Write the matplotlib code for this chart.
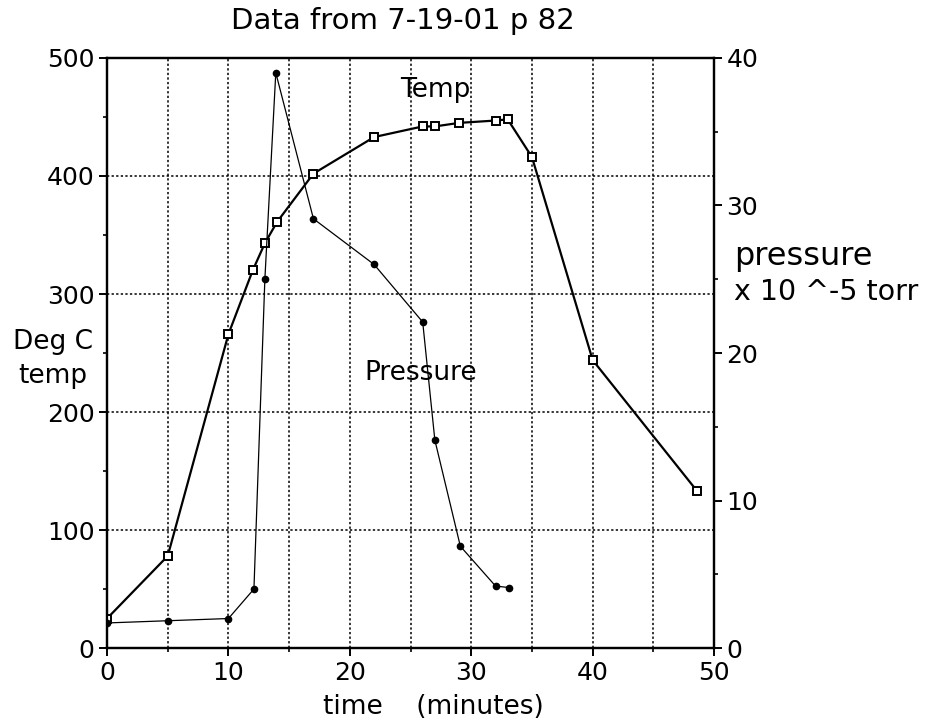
import matplotlib.pyplot as plt
from matplotlib.ticker import MultipleLocator

# temperature (deg C, left axis)
temp_t = [0, 5, 10, 12, 13, 14, 17, 22, 26, 27, 29, 32, 33, 35, 40, 48.6]
temp_c = [25, 78, 266, 320, 343, 361, 402, 433, 442, 442, 445, 447, 448, 416, 244, 133]

# pressure (x 10^-5 torr, right axis)
pres_t = [0, 5, 10, 12.1, 13, 13.9, 17, 22, 26, 27, 29.1, 32, 33.1]
pres_v = [1.7, 1.85, 2.0, 4.0, 25.0, 39.0, 29.1, 26.0, 22.1, 14.1, 6.9, 4.2, 4.1]

plt.rcParams['font.family'] = ['DejaVu Sans']

fig = plt.figure(figsize=(9.25, 7.23), dpi=100)
ax = fig.add_axes([0.1157, 0.1037, 0.6563, 0.8161])
ax2 = ax.twinx()

ax.plot(temp_t, temp_c, color='black', lw=1.6, marker='s', ms=6,
        mfc='white', mec='black', mew=1.4, zorder=3)
ax2.plot(pres_t, pres_v, color='black', lw=0.9, marker='o', ms=4.5,
         mfc='black', mec='black', zorder=3)

ax.set_xlim(0, 50)
ax.set_ylim(0, 500)
ax2.set_ylim(0, 40)

ax.xaxis.set_major_locator(MultipleLocator(10))
ax.xaxis.set_minor_locator(MultipleLocator(5))
ax.yaxis.set_major_locator(MultipleLocator(100))
ax.yaxis.set_minor_locator(MultipleLocator(50))
ax2.yaxis.set_major_locator(MultipleLocator(10))
ax2.yaxis.set_minor_locator(MultipleLocator(5))

# grid: vertical every 5 min, horizontal every 100 deg
grid_ls = (0, (1.5, 1.5))
ax.grid(True, which='minor', axis='x', color='black', lw=1.1, ls=grid_ls)
ax.grid(True, which='major', axis='x', color='black', lw=1.1, ls=grid_ls)
ax.grid(True, which='major', axis='y', color='black', lw=1.1, ls=grid_ls)

for a in (ax, ax2):
    for s in a.spines.values():
        s.set_linewidth(1.6)
    a.tick_params(which='major', direction='out', length=6, width=1.4,
                  labelsize=18, pad=3)
    a.tick_params(which='minor', direction='out', length=3, width=1.2)

ax.text(27.0, 473, 'Temp', fontsize=19, ha='center', va='center')
ax.text(25.8, 233, 'Pressure', fontsize=19, ha='center', va='center')

fig.text(0.436, 0.971, 'Data from 7-19-01 p 82', fontsize=21, ha='center', va='center')
fig.text(0.057, 0.527, 'Deg C', fontsize=19, ha='center', va='center')
fig.text(0.057, 0.480, 'temp', fontsize=19, ha='center', va='center')
fig.text(0.794, 0.645, 'pressure', fontsize=23, ha='left', va='center')
fig.text(0.794, 0.596, 'x 10 ^-5 torr', fontsize=20.5, ha='left', va='center')
fig.text(0.469, 0.022, 'time    (minutes)', fontsize=19, ha='center', va='center')

fig.savefig('out.png', dpi=100)
